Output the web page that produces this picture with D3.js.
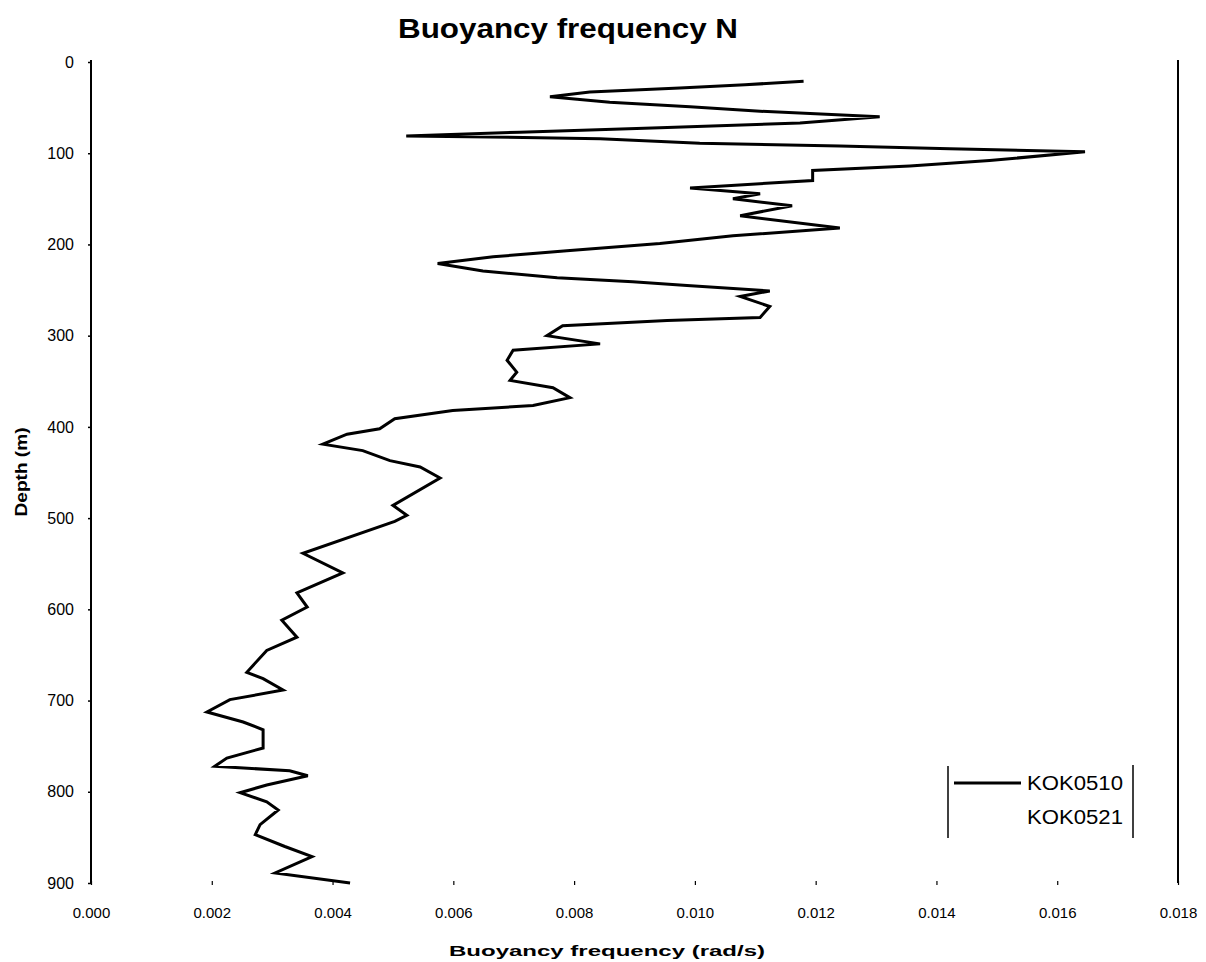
<!DOCTYPE html>
<html>
<head>
<meta charset="utf-8">
<script src="https://cdn.jsdelivr.net/npm/d3@7"></script>
<style>
  html, body { margin: 0; padding: 0; background: #fff; }
  svg { display: block; font-family: "Liberation Sans", Arial, sans-serif; }
</style>
</head>
<body>
<svg id="chart" width="1206" height="962"></svg>
<script>
// ---- data ----
const chartTitle = "Buoyancy frequency N";
const xTitle = "Buoyancy frequency (rad/s)";
const yTitle = "Depth (m)";
const seriesNames = ["KOK0510", "KOK0521"];
const xTicks = [0, 0.002, 0.004, 0.006, 0.008, 0.010, 0.012, 0.014, 0.016, 0.018];
const yTicks = [0, 100, 200, 300, 400, 500, 600, 700, 800, 900];
// KOK0510 profile: depth (m) and N (rad/s)
const depthKOK0510 = [21, 25, 28.5, 33, 38, 44, 49, 54, 60, 67, 72, 77, 81, 84, 89, 92, 95, 98.5,
  108, 114, 119, 130, 138, 144.5, 150, 157.5, 168.5, 182, 190.5, 199, 207, 213.5, 221, 229, 236.5,
  241, 245, 251, 257, 268, 280, 283.5, 289, 300, 309, 316, 327, 340, 349, 357, 368, 376.5, 382,
  391, 402, 408, 419, 426, 437, 444, 456, 486, 497, 503.5, 538.5, 560, 582, 597.5, 612, 630.5,
  645, 669, 676, 688.5, 699, 712.5, 723.5, 732, 752, 763, 772, 777, 782.5, 792.5, 801, 811, 820,
  836, 847, 860, 871, 889, 900];
const nKOK0510 = [0.01180, 0.01083, 0.00975, 0.00826, 0.00760, 0.00859, 0.00992, 0.01108, 0.01306,
  0.01174, 0.00942, 0.00710, 0.00522, 0.00843, 0.01008, 0.01240, 0.01422, 0.01646,
  0.01488, 0.01356, 0.01195, 0.01195, 0.00992, 0.01108, 0.01063, 0.01161, 0.01075, 0.01240,
  0.01063, 0.00942, 0.00788, 0.00666, 0.00574, 0.00649, 0.00772,
  0.00897, 0.00987, 0.01124, 0.01075, 0.01124, 0.01108, 0.00954, 0.00781, 0.00755, 0.00843,
  0.00699, 0.00689, 0.00705, 0.00694, 0.00765, 0.00793, 0.00732, 0.00599,
  0.00503, 0.00478, 0.00424, 0.00384, 0.00450, 0.00495, 0.00545, 0.00578, 0.00500, 0.00523,
  0.00503, 0.00351, 0.00417, 0.00341, 0.00358, 0.00316, 0.00341,
  0.00291, 0.00258, 0.00285, 0.00318, 0.00230, 0.00192, 0.00252, 0.00285, 0.00285, 0.00225,
  0.00205, 0.00329, 0.00359, 0.00291, 0.00247, 0.00291, 0.00310,
  0.00280, 0.00272, 0.00321, 0.00366, 0.00305, 0.00429];

// ---- layout ----
const svg = d3.select("#chart");
const mLeft = 91, mRight = 1178, mTop = 62, mBottom = 883;

const x = d3.scaleLinear().domain([0, 0.018]).range([mLeft, mRight]);
const y = d3.scaleLinear().domain([0, 900]).range([mTop, mBottom]);

// plot side borders
svg.append("line").attr("x1", mLeft).attr("x2", mLeft).attr("y1", mTop - 2).attr("y2", mBottom)
  .attr("stroke", "#000").attr("stroke-width", 2);
svg.append("line").attr("x1", mRight).attr("x2", mRight).attr("y1", mTop - 2).attr("y2", mBottom)
  .attr("stroke", "#000").attr("stroke-width", 2);

// y axis
const yAxis = d3.axisLeft(y).tickValues(yTicks).tickSize(3).tickPadding(14).tickFormat(d3.format("d"));
const gy = svg.append("g").attr("transform", `translate(${mLeft},0)`).call(yAxis);
gy.select(".domain").remove();
gy.selectAll("text").attr("font-size", 16).attr("fill", "#000")
  .attr("font-family", "'Liberation Sans', Arial, sans-serif");
gy.selectAll("line").attr("stroke", "#000").attr("stroke-width", 1.5);

// x axis
const xAxis = d3.axisBottom(x).tickValues(xTicks).tickSize(4).tickPadding(22).tickFormat(d3.format(".3f"));
const gx = svg.append("g").attr("transform", `translate(0,${mBottom - 2})`).call(xAxis);
gx.select(".domain").remove();
gx.selectAll("text").attr("font-size", 15).attr("fill", "#000")
  .attr("font-family", "'Liberation Sans', Arial, sans-serif");
gx.selectAll("line").attr("stroke", "#000").attr("stroke-width", 1.2);

// line
const pts = depthKOK0510.map((d, i) => [nKOK0510[i], d]);
const line = d3.line().x(d => x(d[0])).y(d => y(d[1]));
svg.append("path").datum(pts).attr("d", line)
  .attr("fill", "none").attr("stroke", "#000").attr("stroke-width", 3)
  .attr("stroke-linejoin", "miter");

// titles
svg.append("text").attr("x", 568).attr("y", 38).attr("text-anchor", "middle")
  .attr("font-size", 28).attr("font-weight", "bold").attr("textLength", 340)
  .attr("lengthAdjust", "spacingAndGlyphs").text(chartTitle);
svg.append("text").attr("x", 607).attr("y", 956).attr("text-anchor", "middle")
  .attr("font-size", 15).attr("font-weight", "bold").attr("textLength", 316)
  .attr("lengthAdjust", "spacingAndGlyphs").text(xTitle);
svg.append("text").attr("transform", "translate(27,472) rotate(-90)").attr("text-anchor", "middle")
  .attr("font-size", 16).attr("font-weight", "bold").attr("textLength", 89)
  .attr("lengthAdjust", "spacingAndGlyphs").text(yTitle);

// legend
const lg = svg.append("g");
lg.append("line").attr("x1", 948).attr("x2", 948).attr("y1", 766).attr("y2", 838)
  .attr("stroke", "#000").attr("stroke-width", 1.5);
lg.append("line").attr("x1", 1133).attr("x2", 1133).attr("y1", 765).attr("y2", 838)
  .attr("stroke", "#000").attr("stroke-width", 1.5);
lg.append("line").attr("x1", 954).attr("x2", 1021).attr("y1", 783).attr("y2", 783)
  .attr("stroke", "#000").attr("stroke-width", 3);
seriesNames.forEach((s, i) => {
  lg.append("text").attr("x", 1027).attr("y", 790 + i * 34).attr("font-size", 20)
    .attr("textLength", 96).attr("lengthAdjust", "spacingAndGlyphs").text(s);
});
</script>
</body>
</html>
